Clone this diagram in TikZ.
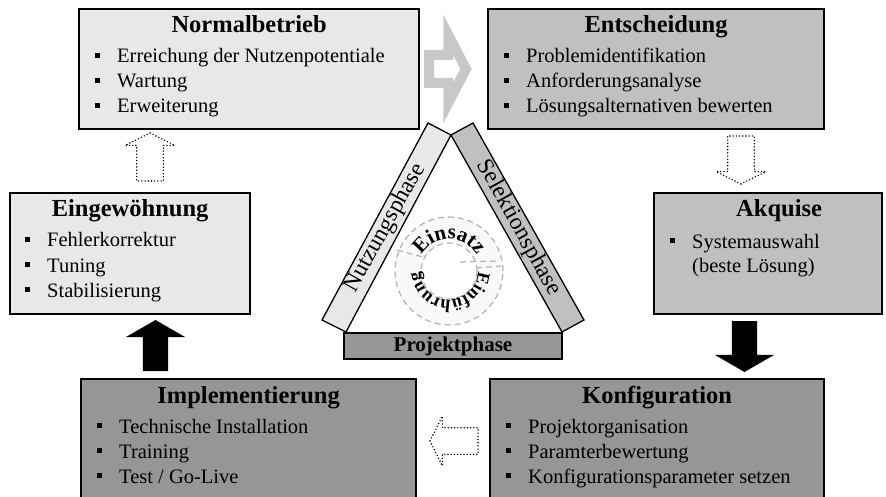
\documentclass[tikz,border=0pt]{standalone}
\usepackage{fontspec}
\setmainfont{Liberation Serif}
\usetikzlibrary{shapes.arrows,decorations.text}
\definecolor{boxlight}{HTML}{E8E8E8}
\definecolor{boxmid}{HTML}{C0C0C0}
\definecolor{boxdark}{HTML}{969696}
\definecolor{arrowgray}{HTML}{C8C8C8}
\newcommand{\bul}{\raisebox{5pt}{\rule{5pt}{5pt}}\hspace{17pt}}

\begin{document}
\begin{tikzpicture}[x=1pt,y=1pt,
  phase/.style={draw=black,line width=2.2pt,rectangle,anchor=north west,inner sep=0pt},
  phasetitle/.style={anchor=base,inner sep=0pt,font=\fontsize{24.5}{28}\selectfont\bfseries},
  phaseitem/.style={anchor=base west,inner sep=0pt,font=\fontsize{20.5}{24.5}\selectfont},
  bar/.style={draw=black,line width=1.3pt},
  barlabel/.style={inner sep=0pt,font=\fontsize{23.5}{23.5}\selectfont},
  cycdash/.style={draw=gray!60,line width=1.2pt,dash pattern=on 6pt off 4pt},
  dotarrow/.style={single arrow,draw=black,line width=1.6pt,line cap=round,dash pattern=on 0pt off 3.2pt,
    minimum height=48pt,minimum width=1pt,inner xsep=0pt,inner ysep=12.5pt,outer sep=0pt,
    single arrow head extend=11.5pt,single arrow tip angle=127,anchor=tail},
  solidarrow/.style={single arrow,fill=black,draw=none,minimum height=51pt,minimum width=1pt,
    inner xsep=0pt,inner ysep=12.5pt,outer sep=0pt,single arrow head extend=17pt,
    single arrow tip angle=120,anchor=tail}]
\clip (0,0) rectangle (886,-497);

\node[phase,fill=boxlight,minimum width=340pt,minimum height=120pt] (nb) at (78,-8) {};
\node[phasetitle] (nb-t) at ([yshift=-25pt]nb.north) {Normalbetrieb};
\foreach \t [count=\i] in {Erreichung der Nutzenpotentiale,Wartung,Erweiterung}
  \node[phaseitem] (nb-\i) at ([xshift=17pt,yshift={-(30+25*\i)*1pt}]nb.north west) {\bul\t};

\node[phase,fill=boxmid,minimum width=336pt,minimum height=120pt] (ent) at (487,-8) {};
\node[phasetitle] (ent-t) at ([yshift=-25pt]ent.north) {Entscheidung};
\foreach \t [count=\i] in {Problemidentifikation,Anforderungsanalyse,Lösungsalternativen bewerten}
  \node[phaseitem] (ent-\i) at ([xshift=17pt,yshift={-(30+25*\i)*1pt}]ent.north west) {\bul\t};

\node[phase,fill=boxlight,minimum width=240pt,minimum height=121pt] (eing) at (9,-192) {};
\node[phasetitle] (eing-t) at ([yshift=-25pt]eing.north) {Eingewöhnung};
\foreach \t [count=\i] in {Fehlerkorrektur,Tuning,Stabilisierung}
  \node[phaseitem] (eing-\i) at ([xshift=16pt,yshift={-(30+25*\i)*1pt}]eing.north west) {\bul\t};

\node[phase,fill=boxmid,minimum width=228pt,minimum height=121pt] (akq) at (653,-192) {};
\node[phasetitle] (akq-t) at ([xshift=11pt,yshift=-25pt]akq.north) {Akquise};
\node[phaseitem] (akq-1) at ([xshift=17pt,yshift=-56pt]akq.north west) {\bul Systemauswahl};
\node[phaseitem] (akq-2) at ([xshift=39pt,yshift=-80pt]akq.north west) {(beste Lösung)};

\node[phase,fill=boxdark,minimum width=335pt,minimum height=130pt] (impl) at (80,-378) {};
\node[phasetitle] (impl-t) at ([yshift=-25pt]impl.north) {Implementierung};
\foreach \t [count=\i] in {Technische Installation,Training,{Test / Go-Live}}
  \node[phaseitem] (impl-\i) at ([xshift=17pt,yshift={-(30+25*\i)*1pt}]impl.north west) {\bul\t};

\node[phase,fill=boxdark,minimum width=334pt,minimum height=130pt] (konf) at (489,-378) {};
\node[phasetitle] (konf-t) at ([yshift=-25pt]konf.north) {Konfiguration};
\foreach \t [count=\i] in {Projektorganisation,Paramterbewertung,Konfigurationsparameter setzen}
  \node[phaseitem] (konf-\i) at ([xshift=17pt,yshift={-(30+25*\i)*1pt}]konf.north west) {\bul\t};

\node[single arrow,draw=arrowgray,line width=10pt,line join=miter,fill=white,minimum height=37pt,
  minimum width=1pt,inner xsep=0pt,inner ysep=9pt,outer sep=0pt,single arrow head extend=20pt,
  single arrow tip angle=125,anchor=tail] (a1) at (429,-69) {};
\node[dotarrow,rotate=-90] (a2) at (741,-136) {};
\node[solidarrow,rotate=-90] (a3) at (744.5,-321) {};
\node[dotarrow,rotate=180] (a4) at (478,-441) {};
\node[solidarrow,rotate=90] (a5) at (155.5,-371) {};
\node[dotarrow,rotate=90] (a6) at (150,-181) {};

\draw[bar,fill=boxlight] (322,-320) -- (346,-332) -- (451,-135) -- (428,-123) -- cycle;
\draw[bar,fill=boxmid] (451,-135) -- (473,-123) -- (584,-320) -- (562,-332) -- cycle;
\node[barlabel,rotate=61] (nutz) at (385.5,-228) {Nutzungsphase};
\node[barlabel,rotate=-61] (sel) at (518.5,-228) {Selektionsphase};
\node[bar,fill=boxdark,minimum width=218pt,minimum height=26pt,inner sep=0pt,
  font=\fontsize{21}{21}\selectfont\bfseries] (proj) at (453,-346) {Projektphase};

\coordinate (cyc) at (449,-271);
\fill[gray!5,even odd rule] (cyc) circle[radius=54] (cyc) circle[radius=28];
\draw[cycdash] (cyc) circle[radius=54] (cyc) circle[radius=28];
\draw[cycdash] (397,-250) -- (423,-257) (460,-262) -- (498,-261) (476,-268) -- (501,-266);
\path[decorate,decoration={text along path,text align=center,
  text={|\fontsize{21}{21}\selectfont\bfseries|Einsatz}}]
  ([shift={(180:32)}]cyc) arc[start angle=180,end angle=0,radius=32];
\path[decorate,decoration={text along path,text align=center,
  text={|\fontsize{18}{18}\selectfont\bfseries|Einführung}}]
  ([shift={(15:29)}]cyc) arc[start angle=15,end angle=-195,radius=29];
\end{tikzpicture}
\end{document}
